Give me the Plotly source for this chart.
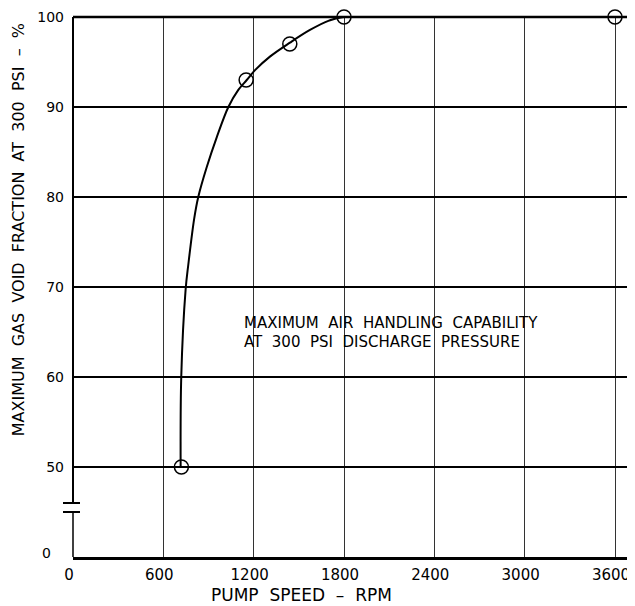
import plotly.graph_objects as go

# ---- data ----
marker_rpm = [720, 1150, 1440, 1800, 3600]
marker_void = [50, 93, 97, 100, 100]

curve_rpm = [715, 719, 748, 766, 805, 832, 888, 954, 1032, 1098, 1154, 1209, 1308, 1441, 1574, 1700, 1800, 3786]
curve_void = [50, 60, 69.7, 72.5, 77.6, 80, 83.3, 86.6, 90, 91.9, 93, 94.1, 95.6, 97.15, 98.56, 99.6, 100, 100]

x_ticks = [0, 600, 1200, 1800, 2400, 3000, 3600]
x_tick_labels = ["0", "600", "1200", "1800", "2400", "3000", "3600"]
y_ticks = [50, 60, 70, 80, 90, 100]
y_tick_labels = ["50", "60", "70", "80", "90", "100"]

X_MAX = 3786
Y_MIN, Y_MAX = 40, 100  # bottom of the broken axis is labelled "0"

FONT = "DejaVu Sans"
SP = "\u00a0\u00a0"

fig = go.Figure()

fig.add_trace(go.Scatter(
    x=curve_rpm, y=curve_void, mode="lines",
    line=dict(color="black", width=2, shape="spline", smoothing=1.0),
    hoverinfo="skip", showlegend=False, cliponaxis=True,
))
fig.add_trace(go.Scatter(
    x=marker_rpm, y=marker_void, mode="markers",
    marker=dict(symbol="circle-open", size=14, color="black", line=dict(width=1.5, color="black")),
    showlegend=False, cliponaxis=False,
))

def py(v):
    return (v - Y_MIN) / (Y_MAX - Y_MIN)

shapes = []
shapes.append(dict(type="line", xref="paper", yref="paper", x0=0, x1=1, y0=1, y1=1,
                   line=dict(color="black", width=2.5)))
shapes.append(dict(type="line", xref="paper", yref="paper", x0=0, x1=0, y0=0, y1=py(45),
                   line=dict(color="black", width=1.5)))
shapes.append(dict(type="line", xref="paper", yref="paper", x0=0, x1=0, y0=py(46), y1=1,
                   line=dict(color="black", width=2)))
for v in (45, 46):
    shapes.append(dict(type="line", xref="paper", yref="paper", x0=-0.0175, x1=0.0123,
                       y0=py(v), y1=py(v), line=dict(color="black", width=2)))

# the page body has an 8px margin, so the figure is offset to compensate
fig.update_layout(
    width=635, height=598,
    margin=dict(l=65, r=0, t=9, b=49),
    paper_bgcolor="white", plot_bgcolor="white",
    shapes=shapes,
    xaxis=dict(
        range=[0, X_MAX], tickvals=x_ticks, ticktext=x_tick_labels,
        showgrid=True, gridcolor="#333333", gridwidth=1.3,
        showline=True, linecolor="black", linewidth=2.5,
        zeroline=False, ticks="", automargin=False,
        ticklabelstandoff=2, ticklabeloverflow="allow", ticklabelshift=-4,
        tickfont=dict(family=FONT, size=15, color="black"),
    ),
    yaxis=dict(
        range=[Y_MIN, Y_MAX], tickvals=y_ticks, ticktext=y_tick_labels,
        showgrid=True, gridcolor="black", gridwidth=2,
        showline=False, zeroline=False, ticks="", automargin=False,
        ticklabelstandoff=8,
        tickfont=dict(family=FONT, size=14, color="black"),
    ),
    annotations=[
        dict(text="0", xref="paper", yref="paper", x=-0.035, y=0.007, showarrow=False,
             xanchor="right", yanchor="middle", font=dict(family=FONT, size=14, color="black")),
        dict(text="MAXIMUM" + SP + "GAS" + SP + "VOID" + SP + "FRACTION" + SP + "AT" + SP + "300" + SP
                  + "PSI" + SP + "\u2013" + SP + "%",
             xref="paper", yref="paper",
             x=-0.0965, y=0.607, textangle=-90, showarrow=False, xanchor="center", yanchor="middle",
             font=dict(family=FONT, size=16, color="black")),
        dict(text="PUMP" + SP + "SPEED" + SP + "\u2013" + SP + "RPM", xref="paper", yref="paper",
             x=0.4, y=-0.07, showarrow=False, xanchor="center", yanchor="middle",
             font=dict(family=FONT, size=17, color="black")),
        dict(text="MAXIMUM" + SP + "AIR" + SP + "HANDLING" + SP + "CAPABILITY",
             xref="x", yref="y", x=1122, y=66.0, showarrow=False, xanchor="left", yanchor="middle",
             font=dict(family=FONT, size=15, color="black")),
        dict(text="AT" + SP + "300" + SP + "PSI" + SP + "DISCHARGE" + SP + "PRESSURE",
             xref="x", yref="y", x=1122, y=63.9, showarrow=False, xanchor="left", yanchor="middle",
             font=dict(family=FONT, size=15, color="black")),
    ],
)

fig.write_html("out.html")
